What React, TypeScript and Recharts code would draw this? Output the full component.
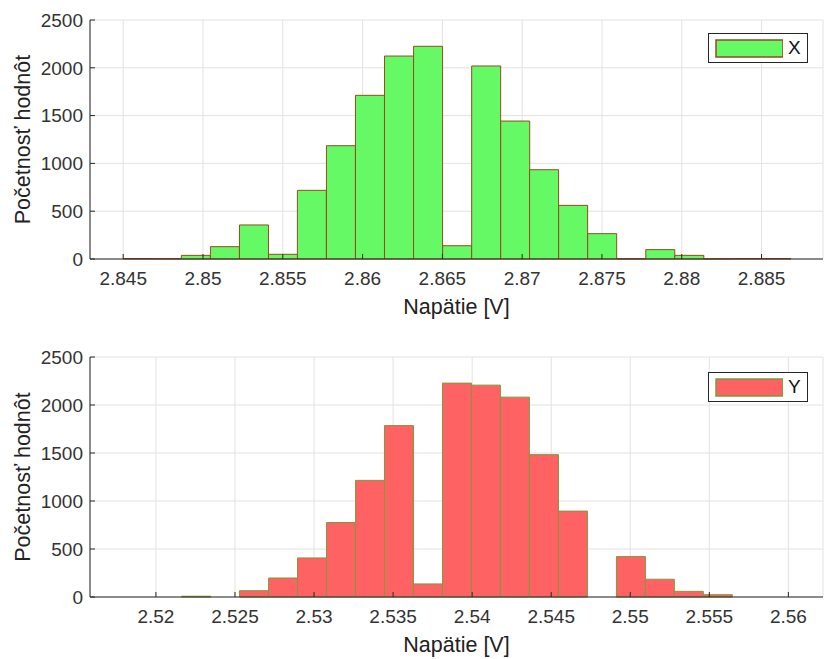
import { BarChart, Bar, XAxis, YAxis, CartesianGrid, Legend, Label } from 'recharts'

// bin centers [V] and counts
const xCenters = [
  2.84591, 2.84773, 2.84955, 2.85137, 2.85319, 2.85501, 2.85682, 2.85864, 2.86046, 2.86228, 2.8641, 2.86592,
  2.86774, 2.86956, 2.87137, 2.87319, 2.87501, 2.87683, 2.87865, 2.88047, 2.88229, 2.8841, 2.88592,
]
const xCounts = [5, 3, 38, 129, 356, 49, 718, 1185, 1712, 2123, 2225, 139, 2019, 1443, 934, 561, 265, 2, 98, 38, 2, 5, 5]

const yCenters = [
  2.52254, 2.52437, 2.5262, 2.52804, 2.52987, 2.5317, 2.53354, 2.53537, 2.5372, 2.53904, 2.54087, 2.5427, 2.54454,
  2.54637, 2.5482, 2.55004, 2.55187, 2.5537, 2.55554,
]
const yCounts = [8, 0, 66, 198, 407, 776, 1215, 1786, 136, 2228, 2207, 2082, 1483, 895, 0, 421, 185, 59, 24]

const xTicks = [2.845, 2.85, 2.855, 2.86, 2.865, 2.87, 2.875, 2.88, 2.885]
const yTicks = [2.52, 2.525, 2.53, 2.535, 2.54, 2.545, 2.55, 2.555, 2.56]
const countTicks = [0, 500, 1000, 1500, 2000, 2500]

const xDomain = [2.84292, 2.88885]
const yDomain = [2.51583, 2.56219]

const axisColor = '#262626'
const gridColor = '#e2e2e2'
const font = 'Arial, "Liberation Sans", Helvetica, sans-serif'

interface HistProps {
  name: string
  centers: number[]
  counts: number[]
  ticks: number[]
  domain: number[]
  fill: string
  stroke: string
  height: number
  marginTop: number
  axisHeight: number
  legendTop: number
}

const fmt = (v: number) => String(+v.toFixed(3))
const blank = () => ''

function Hist({ name, centers, counts, ticks, domain, fill, stroke, height, marginTop, axisHeight, legendTop }: HistProps) {
  const data = centers.map((c, i) => ({ v: c, n: counts[i] }))

  const renderLegend = (props: any) => {
    const item = props.payload?.[0]
    return (
      <div
        style={{
          width: 98,
          height: 28,
          border: `1px solid ${axisColor}`,
          background: '#fff',
          display: 'flex',
          alignItems: 'center',
          boxSizing: 'content-box',
        }}
      >
        <svg width={74} height={28}>
          <rect x={7} y={6} width={67} height={17} fill={fill} stroke={stroke} strokeWidth={1.5} />
        </svg>
        <span style={{ fontFamily: font, fontSize: 19, color: '#111', marginLeft: 5 }}>{item?.value ?? name}</span>
      </div>
    )
  }

  return (
    <BarChart
      width={825}
      height={height}
      data={data}
      margin={{ top: marginTop, right: 2, bottom: 0, left: 0 }}
      barCategoryGap={0}
      barGap={0}
    >
      <CartesianGrid stroke={gridColor} strokeWidth={1} />
      <XAxis
        dataKey="v"
        type="number"
        domain={domain}
        allowDataOverflow
        ticks={ticks}
        tickFormatter={fmt}
        height={axisHeight}
        stroke={axisColor}
        tick={{ fill: '#333', fontSize: 19, fontFamily: font }}
        tickSize={-5}
        tickMargin={18}
      >
        <Label
          content={({ viewBox }: any) => (
            <text
              x={viewBox.x + viewBox.width / 2}
              y={viewBox.y + 48}
              textAnchor="middle"
              dominantBaseline="central"
              fill="#222"
              fontSize={21.5}
              fontFamily={font}
            >
              Napätie [V]
            </text>
          )}
        />
      </XAxis>
      <XAxis
        xAxisId="top"
        orientation="top"
        dataKey="v"
        type="number"
        domain={domain}
        allowDataOverflow
        ticks={ticks}
        tickFormatter={blank}
        height={0}
        stroke={axisColor}
        tickSize={-5}
      />
      <YAxis
        domain={[0, 2500]}
        ticks={countTicks}
        width={90}
        stroke={axisColor}
        tick={{ fill: '#333', fontSize: 19, fontFamily: font }}
        tickSize={-5}
        tickMargin={12}
      >
        <Label
          content={({ viewBox }: any) => {
            const cx = viewBox.x + 23
            const cy = viewBox.y + viewBox.height / 2
            return (
              <text
                x={cx}
                y={cy}
                transform={`rotate(-90 ${cx} ${cy})`}
                textAnchor="middle"
                dominantBaseline="central"
                fill="#222"
                fontSize={21.5}
                fontFamily={font}
              >
                Početnosť hodnôt
              </text>
            )
          }}
        />
      </YAxis>
      <YAxis
        yAxisId="right"
        orientation="right"
        domain={[0, 2500]}
        ticks={countTicks}
        width={0}
        stroke={axisColor}
        tickFormatter={blank}
        tickSize={-5}
      />
      <Legend
        content={renderLegend}
        layout="horizontal"
        verticalAlign="middle"
        align="center"
        wrapperStyle={{ top: legendTop, left: 708, width: 100 }}
      />
      <Bar dataKey="n" name={name} fill={fill} stroke={stroke} strokeWidth={1} isAnimationActive={false} />
    </BarChart>
  )
}

export default function App() {
  return (
    <div style={{ position: 'absolute', left: 0, top: 0, width: 825, height: 659, background: '#fff' }}>
      <Hist
        name="X"
        centers={xCenters}
        counts={xCounts}
        ticks={xTicks}
        domain={xDomain}
        fill="#66f966"
        stroke="#9a4a1c"
        height={330}
        marginTop={20}
        axisHeight={71}
        legendTop={33}
      />
      <Hist
        name="Y"
        centers={yCenters}
        counts={yCounts}
        ticks={yTicks}
        domain={yDomain}
        fill="#ff6262"
        stroke="#7e9a3e"
        height={329}
        marginTop={27}
        axisHeight={62}
        legendTop={42}
      />
    </div>
  )
}
